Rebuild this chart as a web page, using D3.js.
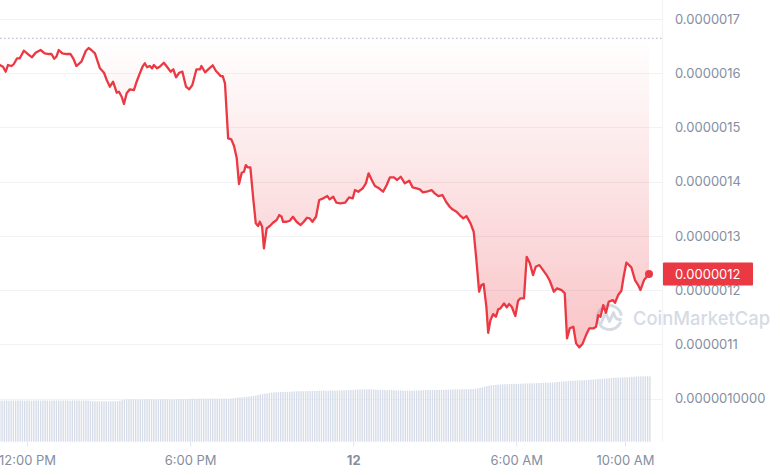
<!DOCTYPE html>
<html><head><meta charset="utf-8">
<script src="https://cdn.jsdelivr.net/npm/d3@7"></script>
<style>html,body{margin:0;padding:0;background:#fff;} svg{display:block;font-family:Inter,"Noto Sans",sans-serif;}</style>
</head><body><svg id="chart" width="780" height="475"></svg>
<script>
// ---------- DATA ----------
const startTime = "2024-06-11T11:00:00Z";
const minutesSinceStart = [0,7,13,18,26,31,38,44,53,62,71,79,90,99,109,114,120,125,130,138,147,156,162,169,180,190,196,202,210,221,230,236,243,250,258,263,269,274,280,287,296,302,309,315,320,325,331,336,340,347,353,
362,369,377,383,389,396,403,411,418,425,434,442,445,453,460,470,477,482,487,492,497,504,511,517,523,528,534,539,543,547,553,559,565,570,574,579,583,589,596,603,611,617,622,625,633,640,647,655,664,671,678,684,690,698,705,
714,723,728,736,743,752,762,771,779,784,791,801,808,814,821,828,837,846,854,861,870,877,885,894,904,911,920,927,934,942,953,960,968,977,985,993,999,1008,1015,1023,1030,1039,1046,1052,1058,1063,1068,1074,1078,
1083,1089,1095,1100,1105,1113,1119,1124,1130,1138,1144,1149,1157,1163,1170,1177,1183,1191,1198,1207,1214,1223,1230,1240,1247,1252,1258,1266,1272,1279,1286,1294,1301,1310,1316,1321,1326,1332,1338,1344,1353,1358,1365,1372,1377,1383,1389,1394,1402,1409,1414,1422,1428,1433];
const prices = [16.151e-7,16.120e-7,16.028e-7,16.151e-7,16.133e-7,16.170e-7,16.275e-7,16.275e-7,16.415e-7,16.354e-7,16.293e-7,16.378e-7,16.428e-7,16.367e-7,16.354e-7,16.354e-7,16.268e-7,16.304e-7,16.428e-7,16.367e-7,16.354e-7,16.354e-7,16.275e-7,16.133e-7,16.212e-7,16.415e-7,16.465e-7,16.428e-7,16.367e-7,16.090e-7,16.009e-7,15.875e-7,15.751e-7,15.843e-7,15.640e-7,15.659e-7,15.566e-7,15.432e-7,15.629e-7,15.703e-7,15.690e-7,15.843e-7,15.998e-7,16.120e-7,16.183e-7,16.109e-7,16.133e-7,16.090e-7,16.151e-7,16.090e-7,16.120e-7,
16.194e-7,16.120e-7,16.028e-7,16.072e-7,15.924e-7,16.009e-7,16.028e-7,15.751e-7,15.703e-7,15.782e-7,16.072e-7,16.072e-7,16.133e-7,16.017e-7,16.072e-7,16.146e-7,16.041e-7,15.998e-7,15.948e-7,15.948e-7,15.814e-7,14.799e-7,14.780e-7,14.657e-7,14.430e-7,13.956e-7,14.164e-7,14.183e-7,14.306e-7,14.264e-7,14.264e-7,13.721e-7,13.231e-7,13.181e-7,13.260e-7,13.168e-7,12.769e-7,13.138e-7,13.181e-7,13.242e-7,13.292e-7,13.384e-7,13.352e-7,13.260e-7,13.260e-7,13.279e-7,13.352e-7,13.260e-7,13.199e-7,13.260e-7,13.334e-7,13.323e-7,13.260e-7,13.352e-7,13.661e-7,
13.692e-7,13.734e-7,13.673e-7,13.721e-7,13.611e-7,13.600e-7,13.611e-7,13.710e-7,13.692e-7,13.845e-7,13.814e-7,13.876e-7,13.969e-7,14.153e-7,14.030e-7,13.919e-7,13.876e-7,13.814e-7,13.937e-7,14.079e-7,14.079e-7,14.030e-7,14.090e-7,13.969e-7,14.017e-7,13.895e-7,13.876e-7,13.858e-7,13.803e-7,13.814e-7,13.845e-7,13.784e-7,13.734e-7,13.753e-7,13.629e-7,13.537e-7,13.489e-7,13.445e-7,13.384e-7,13.323e-7,13.365e-7,13.231e-7,13.076e-7,12.554e-7,11.969e-7,12.092e-7,12.111e-7,11.692e-7,11.212e-7,
11.446e-7,11.557e-7,11.507e-7,11.644e-7,11.662e-7,11.755e-7,11.681e-7,11.742e-7,11.692e-7,11.520e-7,11.803e-7,11.847e-7,11.847e-7,12.614e-7,12.493e-7,12.277e-7,12.430e-7,12.461e-7,12.382e-7,12.277e-7,12.172e-7,11.969e-7,12.031e-7,12.000e-7,11.939e-7,11.109e-7,11.293e-7,11.323e-7,11.017e-7,10.943e-7,11.004e-7,11.170e-7,11.293e-7,11.293e-7,11.323e-7,11.539e-7,11.507e-7,11.723e-7,11.581e-7,11.784e-7,11.815e-7,11.766e-7,11.908e-7,11.987e-7,12.245e-7,12.504e-7,12.461e-7,12.419e-7,12.185e-7,12.092e-7,12.000e-7,12.185e-7,12.245e-7,12.295e-7];
const referencePrice = 16.644e-7;
const lastPriceLabel = "0.0000012";
const priceTicks = [17e-7,16e-7,15e-7,14e-7,13e-7,12e-7,11e-7,10e-7];
const priceTickLabels = ["0.0000017","0.0000016","0.0000015","0.0000014","0.0000013","0.0000012","0.0000011","0.0000010000"];
const timeTicks = ["2024-06-11T12:00:00Z","2024-06-11T18:00:00Z","2024-06-12T00:00:00Z","2024-06-12T06:00:00Z","2024-06-12T10:00:00Z"];
const timeTickLabels = ["12:00 PM","6:00 PM","12","6:00 AM","10:00 AM"];
const volumeIntervalMinutes = 5;
const volumes = [
41.0,41.2,41.0,41.3,41.0,41.2,41.2,41.0,41.3,41.2,41.2,41.0,41.3,41.2,41.0,41.2,41.3,41.2,41.0,41.2,
41.3,41.2,41.0,41.2,41.3,41.2,41.2,41.0,41.2,41.3,41.2,41.0,41.2,41.3,41.2,41.2,41.0,41.2,41.3,41.2,
40.6,40.4,40.4,40.3,40.4,40.4,40.3,40.4,40.4,40.3,40.4,40.4,40.6,41.0,
41.6,42.0,42.2,42.3,42.2,42.4,42.3,42.2,42.4,42.3,42.4,42.3,42.2,42.4,42.3,42.4,42.2,42.3,42.4,42.3,
42.4,42.2,42.3,42.4,42.5,42.4,42.6,42.5,42.7,42.8,
42.9,43.0,43.0,42.9,43.0,43.1,43.0,42.9,43.0,43.0,43.1,43.0,42.9,43.0,43.0,43.1,43.0,43.0,43.2,43.4,
43.8,44.1,44.4,44.4,44.6,44.8,45.1,45.5,45.7,46.2,46.8,47.3,47.7,48.0,48.4,48.8,
49.1,49.3,49.4,49.5,49.6,49.7,49.8,49.9,50.0,
50.2,50.3,50.4,50.4,50.5,50.5,50.6,50.6,50.7,50.7,50.8,50.8,50.9,
51.0,51.0,51.1,51.0,51.1,51.2,51.1,51.2,51.3,51.3,51.4,51.5,51.6,51.7,51.8,52.0,52.1,
52.3,52.4,52.5,52.4,52.4,52.5,52.3,52.1,
51.9,51.8,51.7,51.7,51.6,51.7,51.6,51.5,51.4,51.3,
51.2,51.1,51.0,51.0,51.1,51.0,51.0,51.2,51.3,
51.5,51.6,51.7,51.7,51.8,51.7,51.7,51.8,51.9,51.8,51.9,52.0,52.1,
52.2,52.3,52.4,52.4,52.4,52.5,52.4,52.4,52.5,52.6,52.7,52.9,53.3,53.8,
54.3,54.9,55.6,56.1,56.5,56.7,56.9,57.1,
57.3,57.4,57.5,57.6,57.7,57.7,57.8,57.8,57.9,58.0,58.1,
58.2,58.3,58.4,58.4,58.5,58.6,58.7,
58.8,58.9,59.0,59.0,59.1,59.2,59.4,59.6,59.9,
60.2,60.4,60.5,60.7,60.9,61.0,
61.1,61.2,61.3,61.4,61.5,61.6,61.8,62.0,62.2,62.4,62.6,
62.8,63.0,63.1,63.3,63.5,63.7,63.9,64.0,64.1,
64.2,64.3,64.4,64.5,64.6,64.8,65.0,65.1,65.2,
65.3,65.4,65.4,65.5,65.3];

// ---------- CHART ----------
const plotRight = 662, volBottom = 441.7;
const red = "#ea3943", axisColor = "#858ea1";
const t0 = new Date(startTime).getTime();
const toDate = m => new Date(t0 + m * 60000);
const series = minutesSinceStart.map((m, i) => ({t: toDate(m), p: prices[i]}));

const x = d3.scaleTime()
  .domain([new Date(timeTicks[0]), new Date(timeTicks[4])])
  .range([27, 625]);
const y = d3.scaleLinear().domain([10e-7, 17e-7]).range([398.5, 19]);
const yVol = d3.scaleLinear().domain([0, 70]).range([volBottom, volBottom - 70]);

const svg = d3.select("#chart");
const defs = svg.append("defs");
const grad = defs.append("linearGradient").attr("id", "fillGrad")
  .attr("gradientUnits", "userSpaceOnUse").attr("x1", 0).attr("x2", 0)
  .attr("y1", y(referencePrice)).attr("y2", 350);
grad.append("stop").attr("offset", 0).attr("stop-color", red).attr("stop-opacity", 0.0);
grad.append("stop").attr("offset", 1).attr("stop-color", red).attr("stop-opacity", 0.3);

// gridlines
svg.append("g").selectAll("line").data(priceTicks).join("line")
  .attr("x1", 0).attr("x2", plotRight)
  .attr("y1", d => Math.round(y(d)) + 0.5).attr("y2", d => Math.round(y(d)) + 0.5)
  .attr("stroke", "#f1f2f4").attr("stroke-width", 1);
svg.append("line").attr("x1", plotRight + 0.5).attr("x2", plotRight + 0.5)
  .attr("y1", 0).attr("y2", volBottom).attr("stroke", "#f1f2f4");

// volume bars
svg.append("g").selectAll("rect").data(volumes).join("rect")
  .attr("x", (d, i) => x(toDate(i * volumeIntervalMinutes)) - 0.7)
  .attr("width", 1.4)
  .attr("y", d => yVol(d))
  .attr("height", d => volBottom - yVol(d))
  .attr("fill", "#d7dde8");

// watermark
const wm = svg.append("g");
const cx = 609.5, cy = 317.5, r = 12;
const arc = d3.arc().innerRadius(r - 1.5).outerRadius(r + 1.5)
  .startAngle(Math.PI * 0.62).endAngle(Math.PI * 2.45);
wm.append("path").attr("transform", `translate(${cx},${cy})`).attr("d", arc()).attr("fill", "#d5dbe5");
wm.append("path")
  .attr("d", `M${cx-8},${cy+5} L${cx-4},${cy-5} L${cx},${cy+4} L${cx+4},${cy-5} Q${cx+6},${cy+3} ${cx+11},${cy+2}`)
  .attr("fill", "none").attr("stroke", "#d5dbe5").attr("stroke-width", 3)
  .attr("stroke-linejoin", "round").attr("stroke-linecap", "round");
wm.append("text").attr("x", 633).attr("y", 325).text("CoinMarketCap")
  .attr("font-size", 19).attr("font-weight", 500).attr("fill", "#d5dbe5")
  .attr("textLength", 137).attr("lengthAdjust", "spacingAndGlyphs");

// area fill between reference line and price
const area = d3.area().x(d => x(d.t)).y0(y(referencePrice)).y1(d => y(d.p));
svg.append("path").datum(series).attr("d", area).attr("fill", "url(#fillGrad)");

// reference dotted line
svg.append("line").attr("x1", 0).attr("x2", plotRight)
  .attr("y1", y(referencePrice)).attr("y2", y(referencePrice))
  .attr("stroke", "#a9b1c0").attr("stroke-width", 1).attr("stroke-dasharray", "1.5,2.5");

// price line
const line = d3.line().x(d => x(d.t)).y(d => y(d.p));
svg.append("path").datum(series).attr("d", line)
  .attr("fill", "none").attr("stroke", red).attr("stroke-width", 2.3)
  .attr("stroke-linejoin", "round").attr("stroke-linecap", "round");

const last = series[series.length - 1];
svg.append("circle").attr("cx", x(last.t)).attr("cy", y(last.p)).attr("r", 4).attr("fill", red);

// y axis
const yAxis = d3.axisRight(y).tickValues(priceTicks)
  .tickFormat((d, i) => priceTickLabels[i]).tickSize(0).tickPadding(13);
const gy = svg.append("g").attr("transform", `translate(${plotRight},0)`).call(yAxis);
gy.select(".domain").remove();
gy.selectAll("text").attr("fill", axisColor).attr("font-size", 13).attr("font-family", "Inter, sans-serif");

// last price tag
svg.append("rect").attr("x", 663).attr("y", y(last.p) - 11.5).attr("width", 90).attr("height", 23)
  .attr("fill", red).attr("rx", 1);
svg.append("text").attr("x", 675).attr("y", y(last.p)).attr("dy", "0.35em")
  .attr("fill", "#fff").attr("font-size", 13).text(lastPriceLabel);

// x axis
const xAxis = d3.axisBottom(x).tickValues(timeTicks.map(d => new Date(d)))
  .tickFormat((d, i) => timeTickLabels[i]).tickSize(5).tickPadding(9);
const gx = svg.append("g").attr("transform", `translate(0,${volBottom})`).call(xAxis);
gx.select(".domain").remove();
gx.selectAll(".tick line").attr("stroke", "#e3e6eb");
gx.selectAll("text").attr("fill", axisColor).attr("font-size", 13).attr("font-family", "Inter, sans-serif")
  .attr("font-weight", (d, i) => timeTickLabels[i] === "12" ? 700 : 400);
</script>
</body></html>
